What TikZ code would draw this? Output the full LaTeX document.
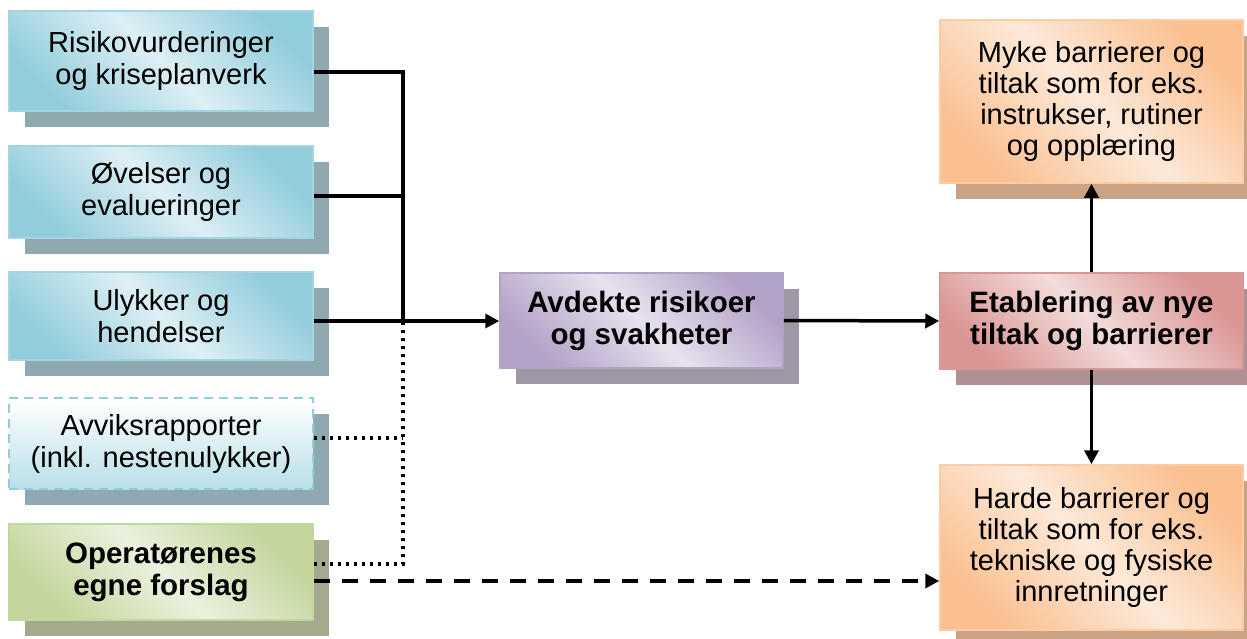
\documentclass[tikz,border=0pt]{standalone}
\usepackage{fontspec}
\setmainfont{Liberation Sans}
\usetikzlibrary{positioning,arrows.meta,shadows,calc}

\definecolor{bluedark}{HTML}{92CDDC}
\definecolor{bluelight}{HTML}{DDEFF4}
\definecolor{blueshadow}{HTML}{8FA9B1}
\definecolor{greendark}{HTML}{C3D69B}
\definecolor{greenlight}{HTML}{EBF1DE}
\definecolor{greenshadow}{HTML}{A4AA8E}
\definecolor{purpledark}{HTML}{B3A2C7}
\definecolor{purplelight}{HTML}{E7E2EE}
\definecolor{purpleshadow}{HTML}{9F97A6}
\definecolor{reddark}{HTML}{D99694}
\definecolor{redlight}{HTML}{F2DCDB}
\definecolor{redshadow}{HTML}{AF9093}
\definecolor{orangedark}{HTML}{FAC090}
\definecolor{orangelight}{HTML}{FDE9D9}
\definecolor{orangeshadow}{HTML}{C9A384}

\begin{document}
\begin{tikzpicture}[x=1pt,y=-1pt]
\tikzset{
  box/.style n args={4}{rectangle,draw=#3,line width=1.5pt,align=center,inner sep=2pt,
    shading=axis,top color=#1,bottom color=#1,middle color=#2,shading angle=-45,
    drop shadow={shadow xshift=16pt,shadow yshift=-16pt,fill=#4,opacity=1},
    font=\fontsize{29}{32}\selectfont},
  bluebox/.style={box={bluedark}{bluelight}{bluedark!85!white}{blueshadow},minimum width=304pt},
  greenbox/.style={box={greendark}{greenlight}{greendark}{greenshadow},minimum width=304pt,font=\fontsize{29.5}{32}\selectfont\bfseries},
  purplebox/.style={box={purpledark}{purplelight}{purpledark}{purpleshadow},minimum width=283pt,minimum height=95pt,font=\fontsize{29.5}{32}\selectfont\bfseries},
  redbox/.style={box={reddark}{redlight}{reddark}{redshadow},minimum width=303pt,minimum height=96pt,font=\fontsize{29.5}{32}\selectfont\bfseries},
  orangebox/.style={box={orangedark}{orangelight}{orangedark!80!white}{orangeshadow},minimum width=303pt,font=\fontsize{29}{31}\selectfont},
  dashbox/.style={rectangle,draw=bluedark,line width=1.5pt,dash pattern=on 9pt off 6pt,align=center,
    top color=white,bottom color=bluedark!65!white,minimum width=304pt,
    drop shadow={shadow xshift=16pt,shadow yshift=-16pt,fill=blueshadow,opacity=1},
    font=\fontsize{29}{32}\selectfont},
  link/.style={line width=3.5pt},
  arrow/.style={link,-{Triangle[length=14pt,width=14pt]}},
  dots/.style={line width=3.5pt,dash pattern=on 3.5pt off 4.5pt},
  dashes/.style={line width=3.5pt,dash pattern=on 16pt off 12pt}
}
\useasboundingbox (0,0) rectangle (1247,638);

\node[bluebox,minimum height=100pt] (risk) at (161,61) {Risikovurderinger\\og kriseplanverk};
\node[bluebox,minimum height=92pt] (ovel) at (161,192) {Øvelser og\\evalueringer};
\node[bluebox,minimum height=88pt] (ulyk) at (161,316) {Ulykker og\\hendelser};
\node[dashbox,minimum height=91pt] (avvik) at (161,443.5) {Avviksrapporter\\(inkl. nestenulykker)};
\node[greenbox,minimum height=96pt] (oper) at (161,572) {Operatørenes\\egne forslag};
\node[purplebox] (avdek) at (641.5,320.5) {Avdekte risikoer\\og svakheter};
\node[redbox] (etab) at (1091.5,321) {Etablering av nye\\tiltak og barrierer};
\node[orangebox,minimum height=163pt] (myke) at (1091.5,101.5) {Myke barrierer og\\tiltak som for eks.\\instrukser, rutiner\\og opplæring};
\node[orangebox,minimum height=165pt] (harde) at (1091.5,547.5) {Harde barrierer og\\tiltak som for eks.\\tekniske og fysiske\\innretninger};

\coordinate (bus) at (403,321);
\coordinate (riskout) at ([yshift=-11pt]risk.east);
\coordinate (ovelout) at ([yshift=-4pt]ovel.east);
\coordinate (avvikout) at ([yshift=5.5pt]avvik.east);
\coordinate (operout) at ([yshift=8pt]oper.east);
\coordinate (forslag) at ([yshift=-9pt]oper.east);

\draw[link] (riskout) -| (bus);
\draw[link] (ovelout) -- (ovelout -| bus);
\draw[dots] (operout) -| (bus);
\draw[dots] (avvikout) -- (avvikout -| bus);
\draw[arrow] (ulyk.east |- bus) -- (avdek.west |- bus);
\draw[arrow] (avdek.east) -- (etab.west);
\draw[arrow] (etab.north) -- (myke.south);
\draw[arrow] (etab.south) -- (harde.north);
\draw[dashes,-{Triangle[length=14pt,width=14pt]}] (forslag) -- (forslag -| harde.west);
\end{tikzpicture}
\end{document}
